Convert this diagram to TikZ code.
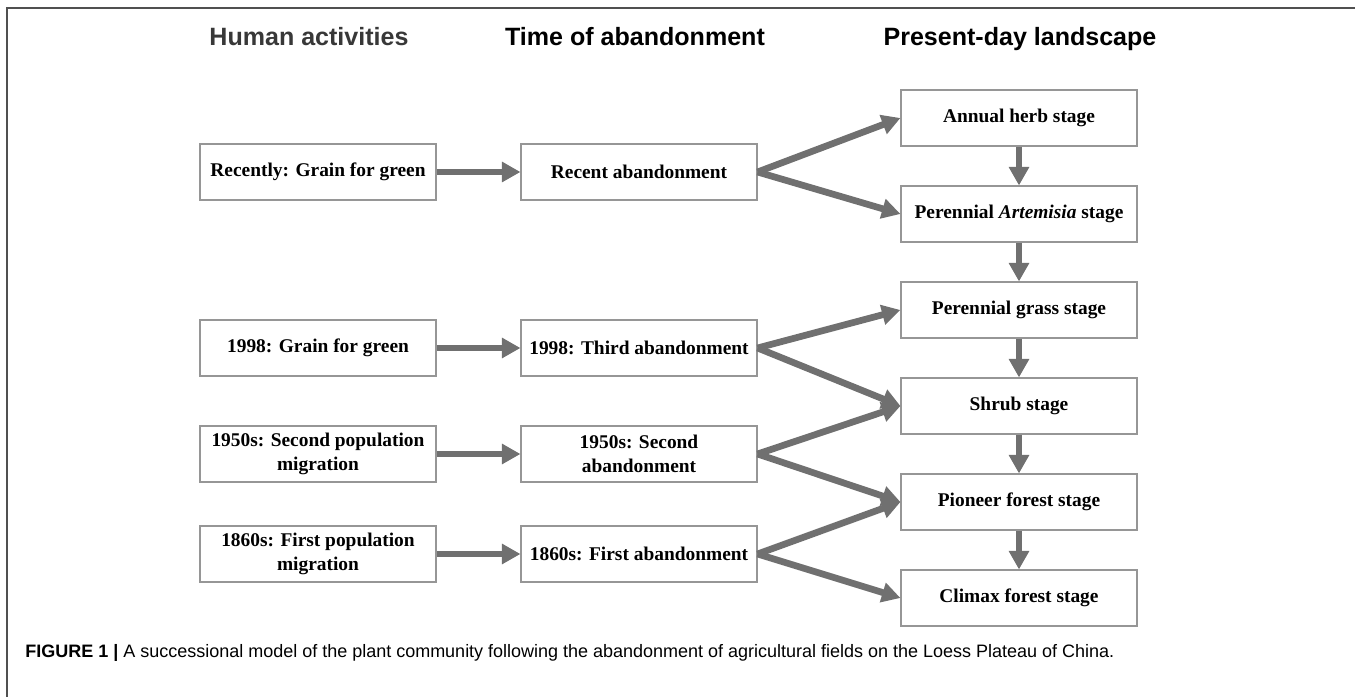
\documentclass[tikz,border=0pt]{standalone}
\usepackage{fontspec}
\setmainfont{Liberation Serif}
\newfontfamily\headfont{Liberation Sans}
\usetikzlibrary{arrows.meta}
\newlength{\du}
\setlength{\du}{0.567pt}
\definecolor{arrowgray}{RGB}{112,112,112}
\definecolor{boxgray}{RGB}{150,150,150}
\definecolor{framegray}{RGB}{80,80,80}
\tikzset{
  stagebox/.style={draw=boxgray, line width=0.6pt, fill=white, minimum width=236\du, minimum height=56\du, inner sep=0pt, align=center, font=\fontsize{11}{13.5}\selectfont\bfseries},
  headtext/.style={anchor=base, font=\headfont\fontsize{14.2}{16}\selectfont\bfseries},
  fatarrow/.style={draw=arrowgray, line width=3.8pt, -{Triangle[length=10.5pt,width=11pt]}},
}

\begin{document}
\begin{tikzpicture}
\pgftransformyscale{-1.000000}
\useasboundingbox (0\du,0\du) rectangle (1355\du,697\du);
% frame
\draw[framegray, line width=1.1pt] (7\du,697\du)--(7\du,8\du)--(1355\du,8\du);
% column heads
\node[headtext, text=black!78] (headhuman) at (309\du,46\du){Human activities};
\node[headtext] (headtime) at (635\du,46\du){Time of abandonment};
\node[headtext] (headland) at (1020\du,46\du){Present-day landscape};
% human activities
\node[stagebox] (human1) at (318\du,172\du){Recently: Grain for green};
\node[stagebox] (human2) at (318\du,348\du){1998: Grain for green};
\node[stagebox] (human3) at (318\du,454\du){1950s: Second population\\migration};
\node[stagebox] (human4) at (318\du,554\du){1860s: First population\\migration};
% time of abandonment
\node[stagebox] (aband1) at (639\du,172\du){Recent abandonment};
\node[stagebox] (aband2) at (639\du,348\du){1998: Third abandonment};
\node[stagebox] (aband3) at (639\du,454\du){1950s: Second\\abandonment};
\node[stagebox] (aband4) at (639\du,554\du){1860s: First abandonment};
% present-day landscape
\node[stagebox] (land1) at (1019\du,118\du){Annual herb stage};
\node[stagebox] (land2) at (1019\du,214\du){Perennial \textit{Artemisia} stage};
\node[stagebox] (land3) at (1019\du,310\du){Perennial grass stage};
\node[stagebox] (land4) at (1019\du,406\du){Shrub stage};
\node[stagebox] (land5) at (1019\du,502\du){Pioneer forest stage};
\node[stagebox] (land6) at (1019\du,598\du){Climax forest stage};
% arrows
\foreach \i in {1,...,4}{
  \draw[fatarrow] (human\i.east)--(aband\i.west);
}
\draw[fatarrow] (aband1.east)--(land1.west);
\draw[fatarrow] (aband1.east)--(land2.west);
\draw[fatarrow] (aband2.east)--(land3.west);
\draw[fatarrow] (aband2.east)--(land4.west);
\draw[fatarrow] (aband3.east)--(land4.west);
\draw[fatarrow] (aband3.east)--(land5.west);
\draw[fatarrow] (aband4.east)--(land5.west);
\draw[fatarrow] (aband4.east)--(land6.west);
\foreach \i/\j in {1/2,2/3,3/4,4/5,5/6}{
  \draw[fatarrow] (land\i.south)--(land\j.north);
}
% caption
\node[anchor=base west, inner sep=0pt, font=\headfont\fontsize{10.2}{12}\selectfont] (caption) at (25\du,657\du){\textbf{FIGURE 1 |} A successional model of the plant community following the abandonment of agricultural fields on the Loess Plateau of China.};
\end{tikzpicture}
\end{document}
